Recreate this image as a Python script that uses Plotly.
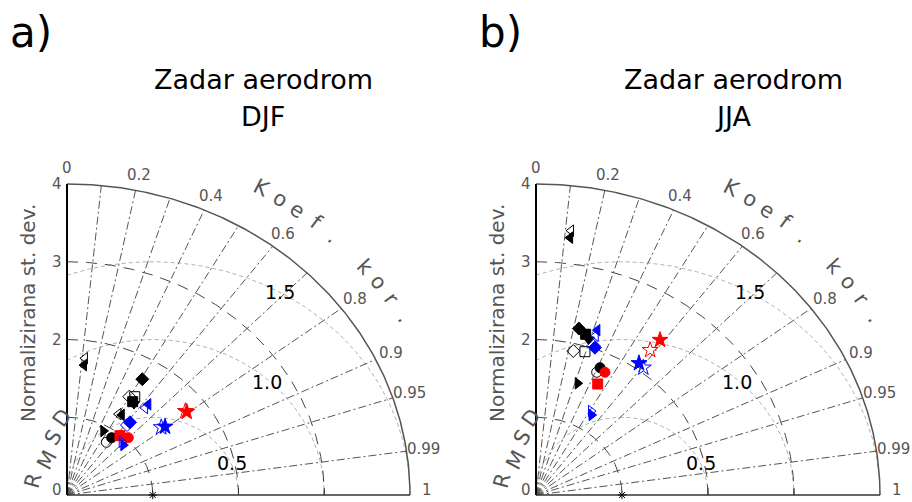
import numpy as np
import plotly.graph_objects as go

W, H = 912, 502

# ---------------- data ----------------
symbols = ["triangle-left", "triangle-left-open", "diamond", "diamond-open", "square-open",
           "square", "triangle-down", "triangle-left", "triangle-left-open", "triangle-left",
           "triangle-left-open", "diamond", "diamond-open", "triangle-right", "circle",
           "circle-open", "square", "circle", "triangle-right", "triangle-right-open",
           "star", "star-open", "star", "star-open"]
colors = ["black", "black", "black", "black", "black",
          "black", "black", "blue", "blue", "black",
          "black", "blue", "blue", "black", "black",
          "black", "red", "red", "blue", "blue",
          "red", "red", "blue", "blue"]

# normalized standard deviation and correlation, DJF (panel a)
djf_std = [1.682, 1.772, 1.729, 1.459, 1.491, 1.424, 1.406, 1.503, 1.443, 1.212,
           1.201, 1.189, 1.140, 0.926, 0.902, 0.819, 0.982, 1.027, 0.919, 0.937,
           1.759, 1.752, 1.442, 1.402]
djf_cor = [0.118, 0.118, 0.508, 0.498, 0.530, 0.538, 0.555, 0.631, 0.631, 0.527,
           0.500, 0.618, 0.614, 0.458, 0.577, 0.561, 0.629, 0.696, 0.715, 0.681,
           0.794, 0.788, 0.793, 0.784]
# JJA (panel b)
jja_std = [3.333, 3.424, 2.198, 1.902, 1.929, 2.146, 2.091, 2.237, 2.164, 2.117,
           2.141, 2.015, 2.034, 1.516, 1.799, 1.729, 1.598, 1.770, 1.215, 1.255,
           2.461, 2.288, 2.075, 2.059]
jja_cor = [0.119, 0.119, 0.227, 0.228, 0.295, 0.269, 0.292, 0.319, 0.321, 0.283,
           0.273, 0.340, 0.329, 0.320, 0.414, 0.408, 0.449, 0.453, 0.532, 0.510,
           0.586, 0.580, 0.577, 0.606]

cor_ticks = [0.1, 0.2, 0.3, 0.4, 0.5, 0.6, 0.7, 0.8, 0.9, 0.95, 0.99]
cor_label_vals = [0, 0.2, 0.4, 0.6, 0.8, 0.9, 0.95, 0.99, 1]
cor_labels = ["0", "0.2", "0.4", "0.6", "0.8", "0.9", "0.95", "0.99", "1"]
std_arcs = [1, 2, 3]
std_label_vals = [0, 2, 3, 4]
std_labels = ["0", "2", "3", "4"]
rms_arcs = [1, 2, 3]
rms_labels = ["0.5", "1.0", "1.5"]
ref_std = 1.0

# ---------------- geometry ----------------
OFF = 0  # body margin removed by post_script
Y0, Y1 = 495, 184
panels = [
    dict(px0=67, px1=410, xa="x", ya="y", t2="DJF", lab="a)", labx=31, tx=263,
         std=djf_std, cor=djf_cor),
    dict(px0=536, px1=880, xa="x2", ya="y2", t2="JJA", lab="b)", labx=500, tx=733,
         std=jja_std, cor=jja_cor),
]
RMAX = 4.0
GRAY = "#555555"
FONT = "DejaVu Sans"

fig = go.Figure()
annotations = []
layout_axes = {}

sy = (Y0 - Y1) / 4.0
ybot = Y0 + 0.05 * sy - OFF
ytop = Y1 - 0.1 * sy - OFF
ydom = [max(0.0, (H - ybot) / H), (H - ytop) / H]


def seg_trace(xs, ys, xa, ya, color, width, dash):
    return go.Scatter(x=xs, y=ys, xaxis=xa, yaxis=ya, mode="lines",
                      line=dict(color=color, width=width, dash=dash),
                      hoverinfo="skip", showlegend=False)


def paper(px, py):
    return (px - OFF) / W, 1 - (py - OFF) / H


for i, p in enumerate(panels):
    sx = (p["px1"] - p["px0"]) / 4.0
    left = p["px0"] - 0.1 * sx - OFF
    right = p["px1"] + 0.1 * sx - OFF
    xname = "xaxis" if i == 0 else "xaxis2"
    yname = "yaxis" if i == 0 else "yaxis2"
    layout_axes[xname] = dict(domain=[left / W, right / W], range=[-0.1, 4.1],
                              visible=False, fixedrange=True)
    layout_axes[yname] = dict(domain=ydom, range=[-0.05, 4.1], visible=False,
                              anchor=p["xa"], fixedrange=True)
    xa, ya = p["xa"], p["ya"]

    def dpaper(xd, yd):
        return paper(p["px0"] + xd * sx, Y0 - yd * sy)

    def ann(xd, yd, text, size, color, angle=0):
        xp, yp = dpaper(xd, yd)
        annotations.append(dict(x=xp, y=yp, xref="paper", yref="paper", text=text,
                                showarrow=False, xanchor="center", yanchor="middle",
                                textangle=angle,
                                font=dict(size=size, color=color, family=FONT)))

    # RMS circles (light gray dashed) centred at reference
    for r in rms_arcs:
        phimax = np.arccos(max(-1.0, -ref_std / r))
        phi = np.linspace(phimax, 0, 200)
        fig.add_trace(seg_trace(ref_std + r * np.cos(phi), r * np.sin(phi), xa, ya,
                                "#b0b0b0", 1, "4px,3px"))
    # std arcs (dark long dashes)
    th = np.linspace(np.pi / 2, 0, 200)
    for r in std_arcs:
        fig.add_trace(seg_trace(r * np.cos(th), r * np.sin(th), xa, ya, "#444444", 1,
                                "11px,8px"))
    # correlation rays
    rx, ry = [], []
    for c in cor_ticks:
        a = np.arccos(c)
        rx += [0, RMAX * np.cos(a), None]
        ry += [0, RMAX * np.sin(a), None]
    fig.add_trace(seg_trace(rx, ry, xa, ya, GRAY, 1, "8px,3px,2px,3px"))
    # outer arc
    fig.add_trace(seg_trace(RMAX * np.cos(th), RMAX * np.sin(th), xa, ya, GRAY, 1.5, "solid"))
    # axes
    fig.add_trace(seg_trace([0, 0], [0, RMAX], xa, ya, "black", 2, "solid"))
    fig.add_trace(seg_trace([0, RMAX], [0, 0], xa, ya, "#333333", 1.5, "solid"))
    # x ticks
    tx_, ty_ = [], []
    for v in [2, 3]:
        tx_ += [v, v, None]
        ty_ += [0, 0.09, None]
    fig.add_trace(seg_trace(tx_, ty_, xa, ya, "#333333", 1, "solid"))
    # reference point
    fig.add_trace(go.Scatter(x=[ref_std], y=[0], xaxis=xa, yaxis=ya, mode="markers",
                             marker=dict(symbol="asterisk-open", size=7, color="black",
                                         opacity=1, line=dict(color="black", width=1)),
                             cliponaxis=False, hoverinfo="skip", showlegend=False))
    # model points
    s = np.array(p["std"])
    c = np.array(p["cor"])
    mx = s * c
    my = s * np.sqrt(1 - c ** 2)
    sizes = [12 if "star" in sym else 10 for sym in symbols]
    fig.add_trace(go.Scatter(x=mx, y=my, xaxis=xa, yaxis=ya, mode="markers",
                             marker=dict(symbol=symbols, color=colors, size=sizes,
                                         opacity=1, line=dict(color=colors, width=1)),
                             hoverinfo="skip", showlegend=False))

    # correlation labels (keep the bottom one inside the page)
    for v, t in zip(cor_label_vals, cor_labels):
        a = np.arccos(v)
        lx, ly = 4.2 * np.cos(a), 4.2 * np.sin(a)
        if v == 1:
            ly = 0.06
        ann(lx, ly, t, 15, GRAY)
    # std labels
    for v, t in zip(std_label_vals, std_labels):
        ann(-10 / sx, max(v, 0.06), t, 15, GRAY)
    # rms labels
    for (lx, ly), t in zip([(1.924, 0.41), (2.333, 1.447), (2.483, 2.611)], rms_labels):
        ann(lx, ly, t, 19, "black")
    # y axis title
    ann(-39 / sx, 2.34, "Normalizirana st. dev.", 20, GRAY, -90)
    # Koef. kor. curved
    kchars = ["K", "o", "e", "f", ".", "k", "o", "r", "."]
    kang = [60.1, 56.8, 53.8, 50.4, 46.9, 40.2, 37.0, 33.7, 30.0]
    for ch, ang in zip(kchars, kang):
        t = np.radians(ang)
        rot = np.degrees(np.arctan2(sy * np.cos(t), sx * np.sin(t)))
        ann(4.55 * np.cos(t), 4.55 * np.sin(t), ch, 21, GRAY, rot)
    # RMSD letters
    for ch, (dx, dy), rot in zip(["R", "M", "S", "D"],
                                 [(-34, 14), (-20, 35), (-14, 57), (-5, 77)],
                                 [-75, -62, -58, -55]):
        ann(dx / sx, dy / sy, ch, 21, GRAY, rot)
    # titles
    for txt, xpx, ypx, size in [("Zadar aerodrom", p["tx"], 80, 27),
                                (p["t2"], p["tx"], 116, 27),
                                (p["lab"], p["labx"], 33, 42)]:
        xp, yp = paper(xpx, ypx)
        annotations.append(dict(x=xp, y=yp, xref="paper", yref="paper", text=txt,
                                showarrow=False, xanchor="center", yanchor="middle",
                                font=dict(size=size, color="black", family=FONT)))

fig.update_layout(width=W, height=H, margin=dict(l=0, r=0, t=0, b=0),
                  paper_bgcolor="white", plot_bgcolor="rgba(0,0,0,0)",
                  showlegend=False, annotations=annotations, **layout_axes)
fig.write_html("out.html", config={"displayModeBar": False},
               post_script="document.body.style.margin='0';document.body.style.overflow='hidden';")
